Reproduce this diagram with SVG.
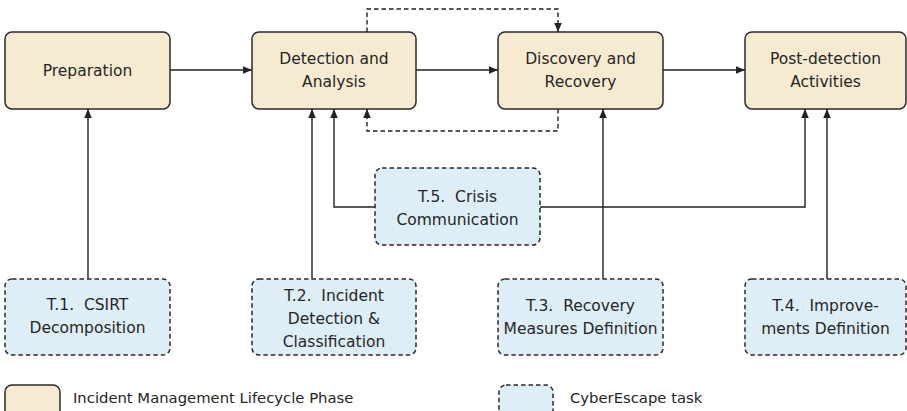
<svg xmlns="http://www.w3.org/2000/svg" width="907" height="411" viewBox="0 0 907 411">
<defs>
<style>
.phase{fill:#f6ebd1;stroke:#2a2a2a;stroke-width:1.5}
.task{fill:#ddeef6;stroke:#2a2a2a;stroke-width:1.5;stroke-dasharray:4.5 3}
.t{font-family:"DejaVu Sans",sans-serif;font-size:15.5px;fill:#262626;text-anchor:middle}
.lg{font-family:"DejaVu Sans",sans-serif;font-size:14.8px;fill:#262626}
.c{fill:none;stroke:#222;stroke-width:1.4}
.d{stroke-dasharray:4.5 3}
</style>
<marker id="ah" viewBox="0 0 10 10" refX="10" refY="5" markerWidth="9" markerHeight="9" markerUnits="userSpaceOnUse" orient="auto">
<path d="M0,0.8 L10,5 L0,9.2 Z" fill="#222"/>
</marker>
</defs>
<g id="connectors">
<path class="c" d="M170,70 H252" marker-end="url(#ah)"/>
<path class="c" d="M416,70 H498" marker-end="url(#ah)"/>
<path class="c" d="M663,70 H745" marker-end="url(#ah)"/>
<path class="c d" d="M367,32 V9 H558 V32" marker-end="url(#ah)"/>
<path class="c d" d="M558,109 V131 H367 V109" marker-end="url(#ah)"/>
<path class="c" d="M88,279 V109" marker-end="url(#ah)"/>
<path class="c" d="M312,279 V109" marker-end="url(#ah)"/>
<path class="c" d="M375,207 H334 V109" marker-end="url(#ah)"/>
<path class="c" d="M540,207 H805 V109" marker-end="url(#ah)"/>
<path class="c" d="M603,279 V109" marker-end="url(#ah)"/>
<path class="c" d="M827,279 V109" marker-end="url(#ah)"/>
</g>
<g id="preparation">
<rect class="phase" x="5" y="32" width="165" height="77" rx="7"/>
<text class="t" x="87.5" y="76">Preparation</text>
</g>
<g id="detection">
<rect class="phase" x="252" y="32" width="164" height="77" rx="7"/>
<text class="t" x="334" y="64">Detection and</text>
<text class="t" x="334" y="87">Analysis</text>
</g>
<g id="discovery">
<rect class="phase" x="498" y="32" width="165" height="77" rx="7"/>
<text class="t" x="580.5" y="64">Discovery and</text>
<text class="t" x="580.5" y="87">Recovery</text>
</g>
<g id="postdetection">
<rect class="phase" x="745" y="32" width="161" height="77" rx="7"/>
<text class="t" x="825.5" y="64">Post-detection</text>
<text class="t" x="825.5" y="87">Activities</text>
</g>
<g id="t5">
<rect class="task" x="375" y="168" width="165" height="77" rx="7"/>
<text class="t" x="457.5" y="202" xml:space="preserve">T.5.  Crisis</text>
<text class="t" x="457.5" y="225">Communication</text>
</g>
<g id="t1">
<rect class="task" x="5" y="279" width="165" height="76" rx="7"/>
<text class="t" x="87.5" y="310" xml:space="preserve">T.1.  CSIRT</text>
<text class="t" x="87.5" y="333">Decomposition</text>
</g>
<g id="t2">
<rect class="task" x="252" y="279" width="164" height="76" rx="7"/>
<text class="t" x="334" y="301" xml:space="preserve">T.2.  Incident</text>
<text class="t" x="334" y="324">Detection &amp;</text>
<text class="t" x="334" y="347">Classification</text>
</g>
<g id="t3">
<rect class="task" x="498" y="279" width="165" height="76" rx="7"/>
<text class="t" x="580.5" y="311" xml:space="preserve">T.3.  Recovery</text>
<text class="t" x="580.5" y="334">Measures Definition</text>
</g>
<g id="t4">
<rect class="task" x="745" y="279" width="161" height="76" rx="7"/>
<text class="t" x="825.5" y="311" xml:space="preserve">T.4.  Improve-</text>
<text class="t" x="825.5" y="334">ments Definition</text>
</g>
<g id="legend-phase">
<rect class="phase" x="5" y="385" width="55" height="34" rx="7"/>
<text class="lg" x="73" y="403">Incident Management Lifecycle Phase</text>
</g>
<g id="legend-task">
<rect class="task" x="499" y="385" width="54" height="34" rx="7"/>
<text class="lg" x="570" y="403">CyberEscape task</text>
</g>
</svg>
